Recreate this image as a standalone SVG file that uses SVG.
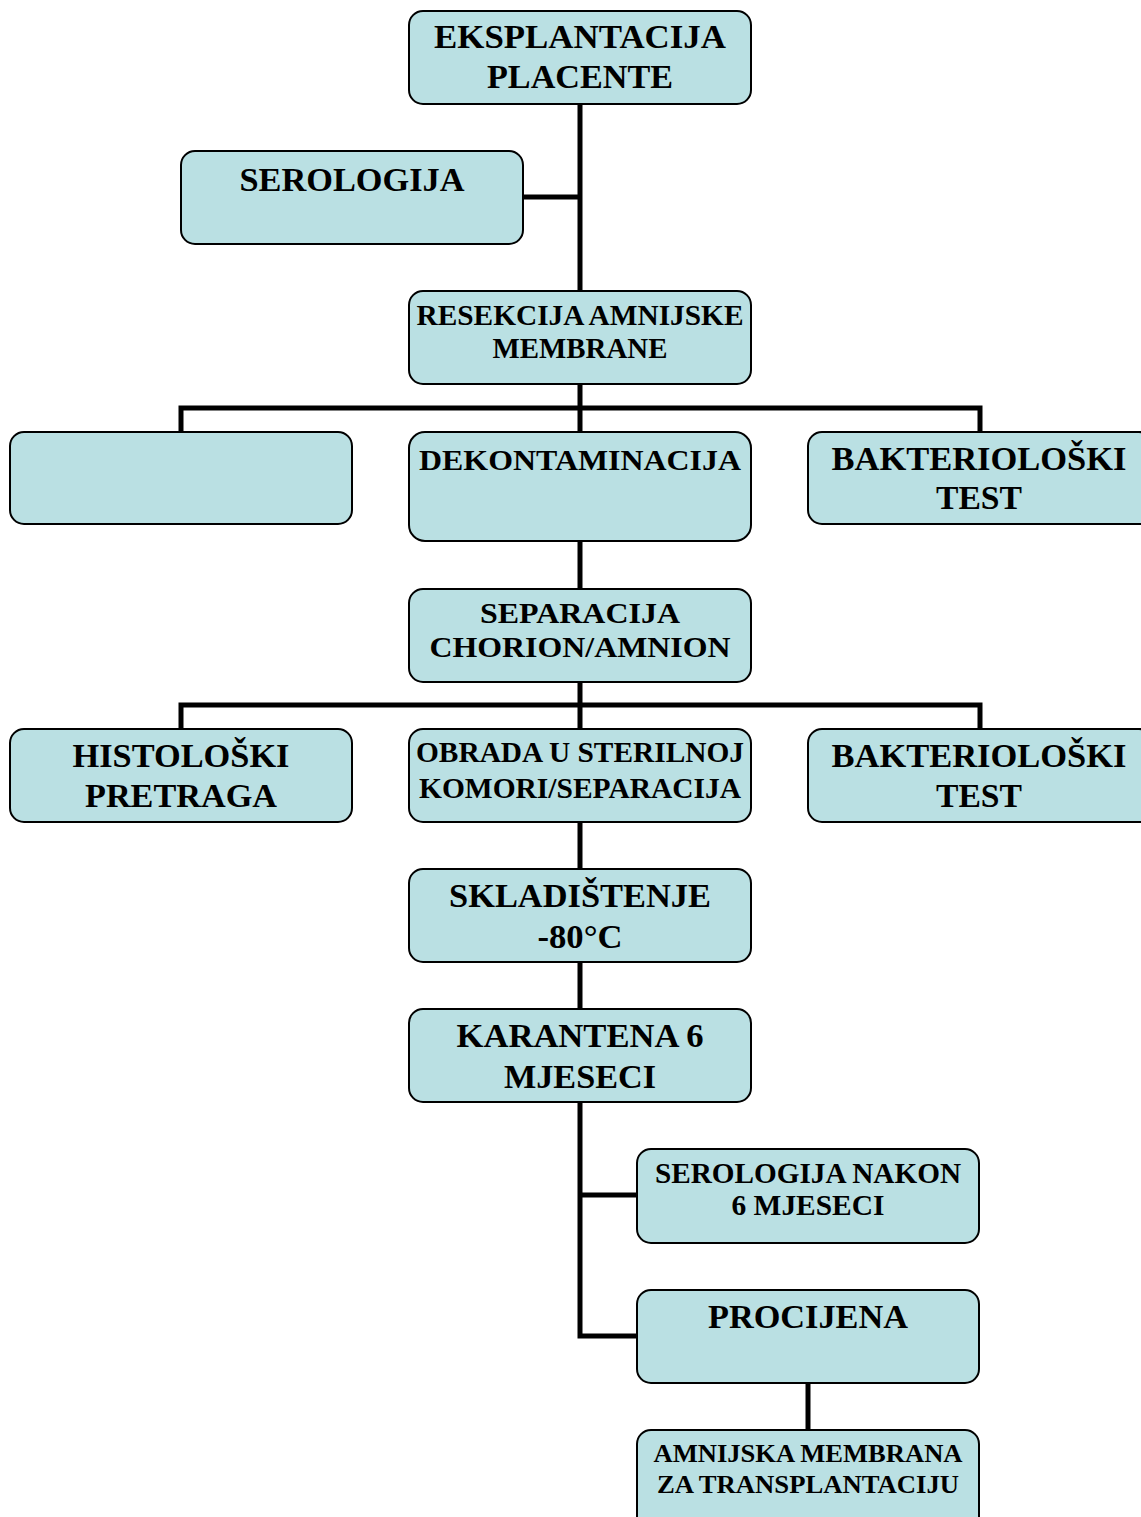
<svg xmlns="http://www.w3.org/2000/svg" width="1141" height="1517" viewBox="0 0 1141 1517">
<style>
.box{fill:#BAE0E3;stroke:#000;stroke-width:2}
.t{font-family:"Liberation Serif","Times New Roman",serif;font-weight:bold;fill:#000;text-anchor:middle}
.l{font-size:33px}
.m{font-size:29px}
.s{font-size:26px}
.c{fill:none;stroke:#000;stroke-width:5;stroke-linejoin:miter}
</style>
<rect width="1141" height="1517" fill="#fff"/>
<g id="connectors">
<path class="c" d="M580,104V291M523,197H580"/>
<path class="c" d="M580,384V408M181,432V408H980V432M580,408V432"/>
<path class="c" d="M580,541V589"/>
<path class="c" d="M580,682V705M181,729V705H980V729M580,705V729"/>
<path class="c" d="M580,822V869M580,962V1009"/>
<path class="c" d="M580,1102V1336H637M580,1195H637"/>
<path class="c" d="M808,1383V1430"/>
</g>
<g id="n1"><rect class="box" x="409" y="11" width="342" height="93" rx="14"/>
<text class="t l" x="580" y="48" textLength="292" lengthAdjust="spacingAndGlyphs">EKSPLANTACIJA</text>
<text class="t l" x="580" y="88" textLength="186" lengthAdjust="spacingAndGlyphs">PLACENTE</text></g>
<g id="n2"><rect class="box" x="181" y="151" width="342" height="93" rx="14"/>
<text class="t l" x="352" y="191" textLength="225" lengthAdjust="spacingAndGlyphs">SEROLOGIJA</text></g>
<g id="n3"><rect class="box" x="409" y="291" width="342" height="93" rx="14"/>
<text class="t m" x="580" y="325" textLength="327" lengthAdjust="spacingAndGlyphs">RESEKCIJA AMNIJSKE</text>
<text class="t m" x="580" y="358" textLength="175" lengthAdjust="spacingAndGlyphs">MEMBRANE</text></g>
<g id="n4"><rect class="box" x="10" y="432" width="342" height="92" rx="14"/></g>
<g id="n5"><rect class="box" x="409" y="432" width="342" height="109" rx="16"/>
<text class="t m" x="580" y="470" textLength="322" lengthAdjust="spacingAndGlyphs">DEKONTAMINACIJA</text></g>
<g id="n6"><rect class="box" x="808" y="432" width="345" height="92" rx="14"/>
<text class="t l" x="979" y="470" textLength="295" lengthAdjust="spacingAndGlyphs">BAKTERIOLOŠKI</text>
<text class="t l" x="979" y="509" textLength="86" lengthAdjust="spacingAndGlyphs">TEST</text></g>
<g id="n7"><rect class="box" x="409" y="589" width="342" height="93" rx="14"/>
<text class="t m" x="580" y="623" textLength="200" lengthAdjust="spacingAndGlyphs">SEPARACIJA</text>
<text class="t m" x="580" y="657" textLength="301" lengthAdjust="spacingAndGlyphs">CHORION/AMNION</text></g>
<g id="n8"><rect class="box" x="10" y="729" width="342" height="93" rx="14"/>
<text class="t l" x="181" y="767" textLength="217" lengthAdjust="spacingAndGlyphs">HISTOLOŠKI</text>
<text class="t l" x="181" y="807" textLength="192" lengthAdjust="spacingAndGlyphs">PRETRAGA</text></g>
<g id="n9"><rect class="box" x="409" y="729" width="342" height="93" rx="14"/>
<text class="t m" x="580" y="762" textLength="328" lengthAdjust="spacingAndGlyphs">OBRADA U STERILNOJ</text>
<text class="t m" x="580" y="798" textLength="322" lengthAdjust="spacingAndGlyphs">KOMORI/SEPARACIJA</text></g>
<g id="n10"><rect class="box" x="808" y="729" width="345" height="93" rx="14"/>
<text class="t l" x="979" y="767" textLength="295" lengthAdjust="spacingAndGlyphs">BAKTERIOLOŠKI</text>
<text class="t l" x="979" y="807" textLength="86" lengthAdjust="spacingAndGlyphs">TEST</text></g>
<g id="n11"><rect class="box" x="409" y="869" width="342" height="93" rx="14"/>
<text class="t l" x="580" y="907" textLength="262" lengthAdjust="spacingAndGlyphs">SKLADIŠTENJE</text>
<text class="t l" x="580" y="948" textLength="85" lengthAdjust="spacingAndGlyphs">-80°C</text></g>
<g id="n12"><rect class="box" x="409" y="1009" width="342" height="93" rx="14"/>
<text class="t l" x="580" y="1047" textLength="247" lengthAdjust="spacingAndGlyphs">KARANTENA 6</text>
<text class="t l" x="580" y="1088" textLength="152" lengthAdjust="spacingAndGlyphs">MJESECI</text></g>
<g id="n13"><rect class="box" x="637" y="1149" width="342" height="94" rx="14"/>
<text class="t m" x="808" y="1183" textLength="306" lengthAdjust="spacingAndGlyphs">SEROLOGIJA NAKON</text>
<text class="t m" x="808" y="1215" textLength="153" lengthAdjust="spacingAndGlyphs">6 MJESECI</text></g>
<g id="n14"><rect class="box" x="637" y="1290" width="342" height="93" rx="14"/>
<text class="t l" x="808" y="1328" textLength="200" lengthAdjust="spacingAndGlyphs">PROCIJENA</text></g>
<g id="n15"><rect class="box" x="637" y="1430" width="342" height="100" rx="14"/>
<text class="t s" x="808" y="1462" textLength="309" lengthAdjust="spacingAndGlyphs">AMNIJSKA MEMBRANA</text>
<text class="t s" x="808" y="1493" textLength="302" lengthAdjust="spacingAndGlyphs">ZA TRANSPLANTACIJU</text></g>
</svg>
